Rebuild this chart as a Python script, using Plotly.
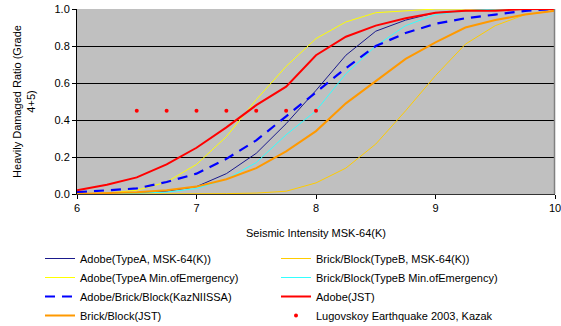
import plotly.graph_objects as go

# Seismic intensity steps (MSK-64(K))
intensity = [6.0, 6.25, 6.5, 6.75, 7.0, 7.25, 7.5, 7.75, 8.0, 8.25, 8.5, 8.75,
             9.0, 9.25, 9.5, 9.75, 10.0]

# Heavily damaged ratio (grade 4+5) per fragility curve
adobe_typeA_msk = [0.0, 0.0, 0.005, 0.015, 0.04, 0.11, 0.22, 0.38, 0.56, 0.75,
                   0.88, 0.94, 0.98, 0.99, 1.0, 1.0, 1.0]
brick_typeB_msk = [0.0, 0.0, 0.0, 0.0, 0.0, 0.002, 0.005, 0.015, 0.06, 0.14,
                   0.27, 0.45, 0.64, 0.81, 0.91, 0.97, 0.99]
adobe_typeA_moe = [0.0, 0.005, 0.02, 0.065, 0.16, 0.31, 0.51, 0.69, 0.84, 0.93,
                   0.98, 0.99, 1.0, 1.0, 1.0, 1.0, 1.0]
brick_typeB_moe = [0.0, 0.0, 0.005, 0.01, 0.03, 0.08, 0.17, 0.32, 0.45, 0.65,
                   0.80, 0.91, 0.97, 0.99, 1.0, 1.0, 1.0]
kazniissa = [0.01, 0.02, 0.03, 0.065, 0.11, 0.19, 0.29, 0.42, 0.55, 0.68, 0.80,
             0.87, 0.92, 0.95, 0.97, 0.99, 1.0]
adobe_jst = [0.02, 0.05, 0.09, 0.16, 0.25, 0.36, 0.48, 0.58, 0.75, 0.85, 0.91,
             0.95, 0.98, 0.99, 0.99, 1.0, 1.0]
brick_jst = [0.0, 0.005, 0.01, 0.02, 0.04, 0.08, 0.14, 0.23, 0.34, 0.49, 0.61,
             0.73, 0.82, 0.90, 0.94, 0.97, 0.99]

# Observed damage, Lugovskoy earthquake 2003
lugovskoy_x = [6.5, 6.75, 7.0, 7.25, 7.5, 7.75, 8.0]
lugovskoy_y = [0.45, 0.45, 0.45, 0.45, 0.45, 0.45, 0.45]

font = "Liberation Sans, Arial, sans-serif"

fig = go.Figure()


def curve(name, y, color, width=1, dash="solid"):
    fig.add_trace(go.Scatter(x=intensity, y=y, name=name, mode="lines",
                             line=dict(color=color, width=width, dash=dash)))


# legend is laid out row by row in two columns
curve("Adobe(TypeA, MSK-64(K))", adobe_typeA_msk, "#1A1A8C", 1)
curve("Brick/Block(TypeB, MSK-64(K))", brick_typeB_msk, "#FFCC00", 1)
curve("Adobe(TypeA Min.ofEmergency)", adobe_typeA_moe, "#FFFF00", 1)
curve("Brick/Block(TypeB Min.ofEmergency)", brick_typeB_moe, "#33FFFF", 1)
curve("Adobe/Brick/Block(KazNIISSA)", kazniissa, "#0000FF", 2.2, "10px,7px")
curve("Adobe(JST)", adobe_jst, "#FF0000", 2)
curve("Brick/Block(JST)", brick_jst, "#FF9900", 2)
fig.add_trace(go.Scatter(x=lugovskoy_x, y=lugovskoy_y, mode="markers",
                         name="Lugovskoy Earthquake 2003, Kazak",
                         marker=dict(color="#FF0000", size=4)))

# grey frame on the right side of the plot area
fig.add_shape(type="line", xref="paper", yref="paper", x0=0.999, x1=0.999,
              y0=0, y1=1, line=dict(color="#808080", width=1.5), layer="above")

fig.update_layout(
    width=561, height=326,
    margin=dict(l=77, r=6, t=9, b=132, autoexpand=False),
    paper_bgcolor="white",
    plot_bgcolor="#C0C0C0",
    font=dict(family=font, size=11, color="black"),
    showlegend=True,
    legend=dict(orientation="h", x=-37 / 478, xanchor="left",
                y=-50 / 185, yanchor="top",
                entrywidth=191, entrywidthmode="pixels",
                font=dict(family=font, size=11), tracegroupgap=0,
                bgcolor="rgba(0,0,0,0)", itemwidth=30),
)
fig.update_xaxes(range=[6, 10], dtick=1, tick0=6, showgrid=False,
                 showline=True, linecolor="#333333", linewidth=1,
                 ticks="outside", ticklen=4, tickcolor="black",
                 ticklabeloverflow="allow", zeroline=False,
                 title=dict(text="Seismic Intensity MSK-64(K)", standoff=16,
                            font=dict(size=11)))
fig.update_yaxes(range=[0, 1], dtick=0.2, tickformat=".1f", showgrid=True,
                 gridcolor="black", gridwidth=1, zeroline=False,
                 showline=True, linecolor="black", linewidth=1,
                 ticks="outside", ticklen=4, tickcolor="black",
                 title=dict(text="Heavily Damaged Ratio (Grade<br>4+5)",
                            standoff=16, font=dict(size=11)))

fig.write_html("out.html")
